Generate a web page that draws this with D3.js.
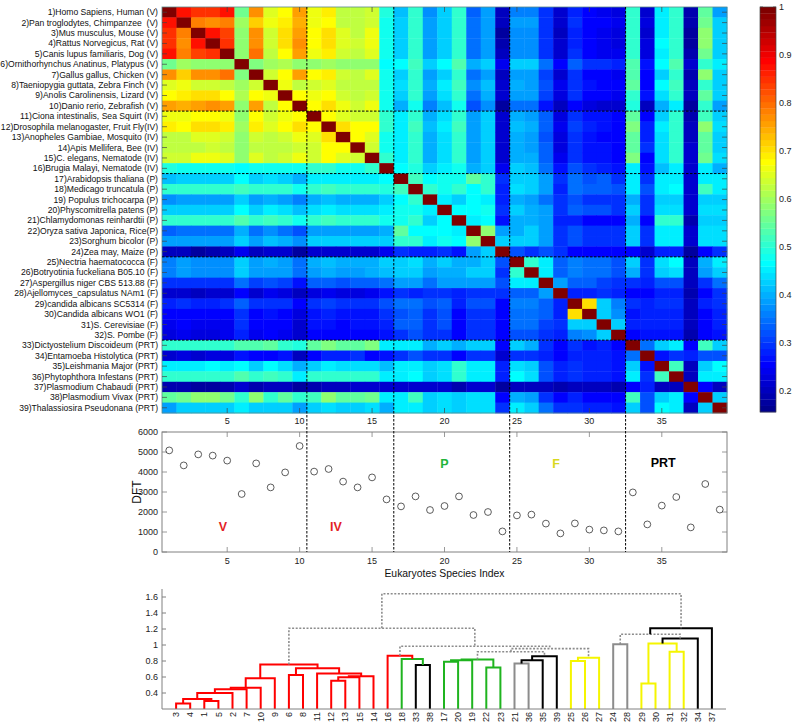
<!DOCTYPE html>
<html><head><meta charset="utf-8">
<script src="https://cdn.jsdelivr.net/npm/d3@7"></script>
<style>
body{margin:0;background:#fff;}
text{font-family:"Liberation Sans",Arial,sans-serif;}
</style></head>
<body><svg id="chart" width="792" height="726"></svg>
<script>
// ---------- DATA ----------
const speciesLabels = [
"1)Homo Sapiens, Human (V)","2)Pan troglodytes, Chimpanzee  (V)","3)Mus musculus, Mouse (V)",
"4)Rattus Norvegicus, Rat (V)","5)Canis lupus familiaris, Dog (V)","6)Ornithorhynchus Anatinus, Platypus (V)",
"7)Gallus gallus, Chicken (V)","8)Taeniopygia guttata, Zebra Finch (V)","9)Anolis Carolinensis, Lizard (V)",
"10)Danio rerio, Zebrafish (V)","11)Ciona intestinalis, Sea Squirt (IV)","12)Drosophila melanogaster, Fruit Fly(IV)",
"13)Anopheles Gambiae, Mosquito (IV)","14)Apis Mellifera, Bee (IV)","15)C. elegans, Nematode (IV)",
"16)Brugia Malayi, Nematode (IV)","17)Arabidopsis thaliana (P)","18)Medicago truncatula (P)",
"19) Populus trichocarpa (P)","20)Physcomitrella patens (P)","21)Chlamydomonas reinhardtii (P)",
"22)Oryza sativa Japonica, Rice(P)","23)Sorghum bicolor (P)","24)Zea may, Maize (P)",
"25)Nectria haematococca (F)","26)Botryotinia fuckeliana B05.10 (F)","27)Aspergillus niger CBS 513.88 (F)",
"28)Ajellomyces_capsulatus NAm1 (F)","29)candida albicans SC5314 (F)","30)Candida albicans WO1 (F)",
"31)S. Cerevisiae (F)","32)S. Pombe (F)","33)Dictyostelium Discoideum (PRT)",
"34)Entamoeba Histolytica (PRT)","35)Leishmania Major (PRT)","36)Phytophthora Infestans (PRT)",
"37)Plasmodium Chabaudi (PRT)","38)Plasmodium Vivax (PRT)","39)Thalassiosira Pseudonana (PRT)"];

// lower triangle of the symmetric similarity matrix (row i: columns 1..i-1), diagonal = 1
const simLower = [
[],
[0.88],
[0.85,0.78],
[0.85,0.77,0.88],
[0.87,0.78,0.84,0.85],
[0.56,0.60,0.58,0.58,0.58],
[0.77,0.72,0.77,0.77,0.79,0.57],
[0.65,0.66,0.64,0.64,0.63,0.60,0.64],
[0.68,0.69,0.70,0.70,0.68,0.61,0.68,0.66],
[0.76,0.74,0.76,0.77,0.76,0.58,0.76,0.62,0.68],
[0.66,0.66,0.67,0.67,0.66,0.58,0.67,0.64,0.66,0.68],
[0.69,0.68,0.70,0.70,0.69,0.60,0.69,0.65,0.67,0.70,0.67],
[0.63,0.63,0.65,0.65,0.64,0.58,0.64,0.63,0.64,0.66,0.65,0.70],
[0.62,0.62,0.63,0.64,0.63,0.58,0.63,0.62,0.63,0.64,0.64,0.68,0.68],
[0.64,0.64,0.66,0.66,0.65,0.58,0.65,0.63,0.64,0.66,0.64,0.67,0.65,0.64],
[0.49,0.48,0.48,0.48,0.48,0.47,0.48,0.48,0.48,0.48,0.50,0.50,0.48,0.48,0.50],
[0.41,0.42,0.42,0.43,0.42,0.47,0.42,0.44,0.43,0.40,0.45,0.45,0.45,0.45,0.45,0.47],
[0.50,0.50,0.50,0.50,0.50,0.52,0.50,0.51,0.50,0.48,0.51,0.52,0.50,0.50,0.51,0.49,0.52],
[0.37,0.38,0.38,0.38,0.38,0.42,0.38,0.40,0.39,0.36,0.40,0.41,0.40,0.40,0.40,0.42,0.47,0.50],
[0.43,0.43,0.43,0.43,0.43,0.47,0.43,0.45,0.44,0.41,0.44,0.45,0.44,0.44,0.44,0.45,0.48,0.48,0.45],
[0.50,0.50,0.50,0.50,0.50,0.53,0.50,0.52,0.50,0.48,0.50,0.52,0.50,0.50,0.51,0.48,0.48,0.50,0.42,0.47],
[0.33,0.34,0.34,0.34,0.34,0.40,0.35,0.37,0.35,0.32,0.38,0.38,0.38,0.38,0.38,0.40,0.55,0.47,0.46,0.47,0.45],
[0.38,0.39,0.39,0.39,0.39,0.43,0.39,0.41,0.40,0.37,0.42,0.42,0.42,0.42,0.42,0.43,0.50,0.50,0.45,0.48,0.47,0.58],
[0.20,0.20,0.18,0.19,0.20,0.24,0.20,0.21,0.21,0.18,0.22,0.22,0.21,0.22,0.22,0.24,0.30,0.28,0.28,0.30,0.27,0.38,0.42],
[0.36,0.38,0.37,0.37,0.37,0.42,0.38,0.40,0.39,0.35,0.40,0.41,0.40,0.40,0.40,0.42,0.42,0.44,0.40,0.42,0.40,0.40,0.42,0.32],
[0.36,0.38,0.37,0.37,0.37,0.42,0.38,0.39,0.38,0.35,0.39,0.40,0.39,0.39,0.40,0.41,0.42,0.42,0.38,0.40,0.40,0.42,0.42,0.30,0.50],
[0.29,0.30,0.30,0.30,0.30,0.34,0.31,0.32,0.31,0.27,0.33,0.33,0.32,0.33,0.33,0.35,0.38,0.38,0.35,0.38,0.38,0.38,0.38,0.32,0.45,0.45],
[0.22,0.22,0.20,0.21,0.22,0.26,0.22,0.24,0.23,0.20,0.23,0.24,0.23,0.23,0.24,0.27,0.30,0.28,0.30,0.30,0.28,0.30,0.30,0.30,0.33,0.33,0.38],
[0.28,0.29,0.28,0.28,0.29,0.33,0.29,0.30,0.29,0.26,0.30,0.31,0.30,0.30,0.30,0.32,0.35,0.35,0.32,0.33,0.28,0.32,0.32,0.26,0.36,0.36,0.33,0.28],
[0.25,0.26,0.25,0.25,0.25,0.30,0.26,0.27,0.26,0.23,0.27,0.28,0.27,0.27,0.27,0.29,0.32,0.33,0.30,0.32,0.26,0.30,0.30,0.26,0.35,0.35,0.33,0.28,0.70],
[0.24,0.25,0.24,0.24,0.24,0.29,0.25,0.26,0.25,0.22,0.27,0.27,0.26,0.27,0.27,0.28,0.33,0.33,0.30,0.32,0.26,0.30,0.30,0.26,0.34,0.34,0.31,0.30,0.43,0.43],
[0.23,0.24,0.23,0.23,0.24,0.28,0.24,0.25,0.24,0.21,0.25,0.26,0.25,0.25,0.25,0.27,0.30,0.32,0.30,0.30,0.26,0.30,0.30,0.26,0.32,0.32,0.30,0.28,0.36,0.37,0.43],
[0.50,0.51,0.50,0.51,0.50,0.53,0.53,0.55,0.50,0.49,0.55,0.57,0.55,0.55,0.57,0.45,0.45,0.45,0.40,0.42,0.40,0.42,0.42,0.25,0.43,0.40,0.30,0.26,0.30,0.27,0.28,0.26],
[0.22,0.23,0.22,0.23,0.23,0.27,0.25,0.26,0.27,0.20,0.25,0.28,0.28,0.29,0.26,0.27,0.30,0.32,0.30,0.30,0.25,0.30,0.30,0.22,0.30,0.30,0.28,0.26,0.28,0.28,0.28,0.27,0.35],
[0.45,0.45,0.45,0.46,0.45,0.47,0.43,0.46,0.44,0.40,0.43,0.45,0.44,0.44,0.44,0.41,0.45,0.45,0.42,0.44,0.50,0.45,0.45,0.28,0.44,0.42,0.32,0.28,0.30,0.28,0.28,0.27,0.43,0.27],
[0.50,0.50,0.50,0.51,0.50,0.53,0.50,0.52,0.50,0.45,0.50,0.51,0.50,0.50,0.50,0.45,0.45,0.46,0.42,0.44,0.50,0.45,0.45,0.28,0.46,0.44,0.32,0.28,0.30,0.28,0.28,0.27,0.45,0.30,0.52],
[0.19,0.19,0.18,0.18,0.19,0.21,0.19,0.20,0.20,0.17,0.19,0.20,0.20,0.21,0.21,0.22,0.22,0.22,0.22,0.22,0.19,0.22,0.22,0.18,0.20,0.20,0.20,0.19,0.20,0.20,0.20,0.19,0.26,0.28,0.20,0.20],
[0.55,0.56,0.58,0.58,0.56,0.50,0.58,0.50,0.55,0.50,0.52,0.58,0.55,0.55,0.56,0.45,0.45,0.52,0.42,0.44,0.42,0.44,0.44,0.26,0.40,0.38,0.30,0.26,0.28,0.26,0.26,0.25,0.52,0.32,0.43,0.45,0.25],
[0.38,0.43,0.43,0.43,0.43,0.45,0.43,0.43,0.43,0.38,0.43,0.44,0.43,0.43,0.44,0.40,0.45,0.45,0.42,0.44,0.42,0.44,0.44,0.30,0.45,0.42,0.34,0.30,0.30,0.28,0.28,0.27,0.42,0.32,0.46,0.45,0.20,0.42]
];

// DFT per species (index 1..39)
const dftValues = [5080,4330,4880,4820,4570,2900,4430,3230,3980,5300,
  4020,4150,3520,3230,3730,2630,2280,2780,2100,2300,2780,1850,2000,1030,
  1830,1870,1420,930,1430,1120,1080,1030,2980,1380,2320,2750,1230,3400,2120];

const groupBounds = [10.5,16.5,24.5,32.5];
const groupLabels = [
  {text:"V", x:4.7, y:1250, color:"#e31f26"},
  {text:"IV", x:12.5, y:1250, color:"#e31f26"},
  {text:"P", x:20, y:4430, color:"#22b43a"},
  {text:"F", x:27.7, y:4430, color:"#d8d820"},
  {text:"PRT", x:35.1, y:4480, color:"#000000"}];

const xTicks = [5,10,15,20,25,30,35];
const dftTicks = [0,1000,2000,3000,4000,5000,6000];
const cbarTicks = [0.2,0.3,0.4,0.5,0.6,0.7,0.8,0.9,1];
const dendTicks = [0.4,0.6,0.8,1,1.2,1.4,1.6];

// dendrogram: leaf order and merges [left, right, height, style]
const leafOrder = [3,4,1,5,2,7,10,9,6,8,11,12,13,15,14,16,18,33,38,17,20,19,22,23,21,36,35,39,25,26,27,24,28,29,30,31,32,34,37];
const merges = [ // node ids start at 40
[3,4,0.27,"red"],[1,5,0.30,"red"],[40,41,0.325,"red"],[42,2,0.40,"red"],[43,7,0.446,"red"],
[44,10,0.466,"red"],[45,9,0.584,"red"],[6,8,0.625,"red"],[12,13,0.554,"red"],[48,15,0.598,"red"],
[49,14,0.61,"red"],[11,50,0.645,"red"],[47,51,0.71,"red"],[46,52,0.755,"red"],[33,38,0.75,"black"],
[18,54,0.825,"green"],[16,55,0.866,"red"],[17,20,0.79,"green"],[57,19,0.81,"green"],[22,23,0.72,"green"],
[58,59,0.82,"green"],[21,36,0.77,"grey"],[61,35,0.81,"black"],[62,39,0.86,"black"],[60,63,0.916,"dash"],
[25,26,0.80,"yellow"],[65,27,0.84,"yellow"],[64,66,0.955,"dash"],[56,67,0.985,"dash"],[53,68,1.21,"dash"],
[24,28,1.01,"grey"],[29,30,0.52,"yellow"],[31,32,0.916,"yellow"],[71,72,1.02,"yellow"],[73,34,1.08,"black"],
[70,74,1.134,"dash"],[75,37,1.21,"black"],[69,76,1.64,"dash"]];

// ---------- DRAW ----------
const svg = d3.select("#chart");
const N = 39;
const hm = {x0:162, x1:727, y0:7, y1:413};
const sc = {y0:432, y1:552};
const dd = {x0:162, x1:726, y0:589, y1:709};

// jet colormap (64 levels)
function jet(m){
  const n=Math.ceil(m/4), u=[];
  for(let i=1;i<=n;i++)u.push(i/n);
  for(let i=1;i<n;i++)u.push(1);
  for(let i=n;i>=1;i--)u.push(i/n);
  const J=d3.range(m).map(()=>[0,0,0]);
  const off=Math.ceil(n/2)-(m%4===1?1:0);
  u.forEach((v,k)=>{const g=off+k+1, r=g+n, b=g-n;
    if(r>=1&&r<=m)J[r-1][0]=v; if(g>=1&&g<=m)J[g-1][1]=v; if(b>=1&&b<=m)J[b-1][2]=v;});
  return J.map(c=>d3.rgb(c[0]*255,c[1]*255,c[2]*255).formatHex());
}
const cmin = 0.155;
const jetColors = jet(64);
const color = d3.scaleQuantize().domain([cmin,1]).range(jetColors);

const x = d3.scaleLinear().domain([0.5,39.5]).range([hm.x0,hm.x1]);
const yRow = d3.scaleLinear().domain([0.5,39.5]).range([hm.y0,hm.y1]);
const cw = x(2)-x(1), ch = yRow(2)-yRow(1);

function sim(i,j){ // 1-based
  if(i===j) return 1;
  return i>j ? simLower[i-1][j-1] : simLower[j-1][i-1];
}
const cells=[];
for(let i=1;i<=N;i++)for(let j=1;j<=N;j++)cells.push({i,j,v:sim(i,j)});
svg.append("g").selectAll("rect").data(cells).join("rect")
  .attr("x",d=>x(d.j)-cw/2).attr("y",d=>yRow(d.i)-ch/2)
  .attr("width",cw+0.4).attr("height",ch+0.4)
  .attr("fill",d=>color(d.v));

// heatmap frame & ticks
svg.append("rect").attr("x",hm.x0).attr("y",hm.y0).attr("width",hm.x1-hm.x0).attr("height",hm.y1-hm.y0)
  .attr("fill","none").attr("stroke","#5a8a8a").attr("stroke-width",0.8);
const tg = svg.append("g").attr("stroke","#444").attr("stroke-width",0.7);
d3.range(1,N+1).forEach(r=>{
  tg.append("line").attr("x1",hm.x0).attr("x2",hm.x0+5).attr("y1",yRow(r)).attr("y2",yRow(r));
  tg.append("line").attr("x1",hm.x1-5).attr("x2",hm.x1).attr("y1",yRow(r)).attr("y2",yRow(r));
});
xTicks.forEach(t=>{
  tg.append("line").attr("x1",x(t)).attr("x2",x(t)).attr("y1",hm.y0).attr("y2",hm.y0+5);
  tg.append("line").attr("x1",x(t)).attr("x2",x(t)).attr("y1",hm.y1-5).attr("y2",hm.y1);
});
svg.append("g").selectAll("text").data(speciesLabels).join("text")
  .attr("x",hm.x0-4).attr("y",(d,i)=>yRow(i+1)).attr("dy","0.35em")
  .attr("text-anchor","end").attr("font-size","8.6px").attr("fill","#111")
  .style("white-space","pre").text(d=>d);
svg.append("g").selectAll("text").data(xTicks).join("text")
  .attr("x",d=>x(d)).attr("y",hm.y1+8).attr("dy","0.35em").attr("text-anchor","middle")
  .attr("font-size","9px").attr("fill","#222").text(d=>d);

// horizontal group separators in heatmap
groupBounds.forEach(b=>{
  svg.append("line").attr("x1",hm.x0).attr("x2",hm.x1).attr("y1",yRow(b)).attr("y2",yRow(b))
    .attr("stroke","#000").attr("stroke-width",1).attr("stroke-dasharray","2.5,1.5");
});

// colorbar
const cb = {x0:760, x1:776, y0:7, y1:412};
const cy = d3.scaleLinear().domain([cmin,1]).range([cb.y1,cb.y0]);
const step=(1-cmin)/64;
svg.append("g").selectAll("rect").data(jetColors).join("rect")
  .attr("x",cb.x0).attr("width",cb.x1-cb.x0)
  .attr("y",(d,i)=>cy(cmin+(i+1)*step)).attr("height",(d,i)=>cy(cmin+i*step)-cy(cmin+(i+1)*step)+0.3)
  .attr("fill",d=>d);
svg.append("rect").attr("x",cb.x0).attr("y",cb.y0).attr("width",cb.x1-cb.x0).attr("height",cb.y1-cb.y0)
  .attr("fill","none").attr("stroke","#444").attr("stroke-width",0.7);
cbarTicks.forEach(t=>{
  tg.append("line").attr("x1",cb.x0).attr("x2",cb.x0+3).attr("y1",cy(t)).attr("y2",cy(t));
  tg.append("line").attr("x1",cb.x1-3).attr("x2",cb.x1).attr("y1",cy(t)).attr("y2",cy(t));
  svg.append("text").attr("x",cb.x1+3).attr("y",cy(t)).attr("dy","0.35em").attr("font-size","9px")
    .attr("fill","#222").text(t);
});

// scatter
const ys = d3.scaleLinear().domain([0,6000]).range([sc.y1,sc.y0]);
svg.append("rect").attr("x",hm.x0).attr("y",sc.y0).attr("width",hm.x1-hm.x0).attr("height",sc.y1-sc.y0)
  .attr("fill","none").attr("stroke","#808080").attr("stroke-width",1);
const sg = svg.append("g").attr("stroke","#808080").attr("stroke-width",0.8);
dftTicks.forEach(t=>{
  sg.append("line").attr("x1",hm.x0).attr("x2",hm.x0+5).attr("y1",ys(t)).attr("y2",ys(t));
  sg.append("line").attr("x1",hm.x1-5).attr("x2",hm.x1).attr("y1",ys(t)).attr("y2",ys(t));
  svg.append("text").attr("x",hm.x0-4).attr("y",ys(t)).attr("dy","0.35em").attr("text-anchor","end")
    .attr("font-size","9px").attr("fill","#222").text(t);
});
xTicks.forEach(t=>{
  sg.append("line").attr("x1",x(t)).attr("x2",x(t)).attr("y1",sc.y0).attr("y2",sc.y0+5);
  sg.append("line").attr("x1",x(t)).attr("x2",x(t)).attr("y1",sc.y1-5).attr("y2",sc.y1);
  svg.append("text").attr("x",x(t)).attr("y",sc.y1+9).attr("dy","0.35em").attr("text-anchor","middle")
    .attr("font-size","9px").attr("fill","#222").text(t);
});
svg.append("g").selectAll("circle").data(dftValues).join("circle")
  .attr("cx",(d,i)=>x(i+1)).attr("cy",d=>ys(d)).attr("r",3.4)
  .attr("fill","none").attr("stroke","#333").attr("stroke-width",0.8);
svg.append("g").selectAll("text").data(groupLabels).join("text")
  .attr("x",d=>x(d.x)).attr("y",d=>ys(d.y)).attr("dy","0.35em").attr("text-anchor","middle")
  .attr("font-size","12.5px").attr("font-weight","bold").attr("fill",d=>d.color).text(d=>d.text);
svg.append("text").attr("x",(hm.x0+hm.x1)/2).attr("y",sc.y1+21).attr("dy","0.35em").attr("text-anchor","middle")
  .attr("font-size","10.4px").attr("fill","#111").text("Eukaryotes Species Index");
svg.append("text").attr("transform",`translate(${137},${(sc.y0+sc.y1)/2}) rotate(-90)`)
  .attr("text-anchor","middle").attr("dy","0.35em").attr("font-size","12px").attr("fill","#111").text("DFT");

// vertical group separators (heatmap through scatter)
groupBounds.forEach(b=>{
  svg.append("line").attr("x1",x(b)).attr("x2",x(b)).attr("y1",hm.y0).attr("y2",sc.y1)
    .attr("stroke","#000").attr("stroke-width",1).attr("stroke-dasharray","2.5,1.5");
});

// dendrogram
const xd = d3.scaleLinear().domain([0,40]).range([dd.x0,dd.x1]);
const yd = d3.scaleLinear().domain([0.2,1.7]).range([dd.y1,dd.y0]);
const pos = {}, hgt = {};
leafOrder.forEach((l,k)=>{pos[l]=k+1; hgt[l]=0.2;});
const styles = {red:"#ff0000",green:"#1fb41f",black:"#000000",grey:"#8c8c8c",yellow:"#f5f500",dash:"#8c8c8c"};
const dg = svg.append("g");
merges.forEach((m,k)=>{
  const id=40+k, [a,b,h,s]=m;
  pos[id]=(pos[a]+pos[b])/2; hgt[id]=h;
  const p=d3.path();
  p.moveTo(xd(pos[a]),yd(hgt[a])); p.lineTo(xd(pos[a]),yd(h));
  p.lineTo(xd(pos[b]),yd(h)); p.lineTo(xd(pos[b]),yd(hgt[b]));
  dg.append("path").attr("d",p.toString()).attr("fill","none")
    .attr("stroke",styles[s]).attr("stroke-width",s==="dash"?1.6:2)
    .attr("stroke-dasharray",s==="dash"?"2,1.6":null);
});
// dendrogram axes
svg.append("line").attr("x1",dd.x0).attr("x2",dd.x0).attr("y1",dd.y0).attr("y2",dd.y1).attr("stroke","#808080");
svg.append("line").attr("x1",dd.x0).attr("x2",dd.x1).attr("y1",dd.y1).attr("y2",dd.y1).attr("stroke","#808080");
dendTicks.forEach(t=>{
  svg.append("line").attr("x1",dd.x0).attr("x2",dd.x0+4).attr("y1",yd(t)).attr("y2",yd(t)).attr("stroke","#808080");
  svg.append("text").attr("x",dd.x0-4).attr("y",yd(t)).attr("dy","0.35em").attr("text-anchor","end")
    .attr("font-size","9px").attr("fill","#222").text(t);
});
svg.append("g").selectAll("text").data(leafOrder).join("text")
  .attr("transform",(d,k)=>`translate(${xd(k+1)},${dd.y1+3}) rotate(-90)`)
  .attr("text-anchor","end").attr("dy","0.35em").attr("font-size","9px").attr("fill","#222").text(d=>d);
</script></body></html>
